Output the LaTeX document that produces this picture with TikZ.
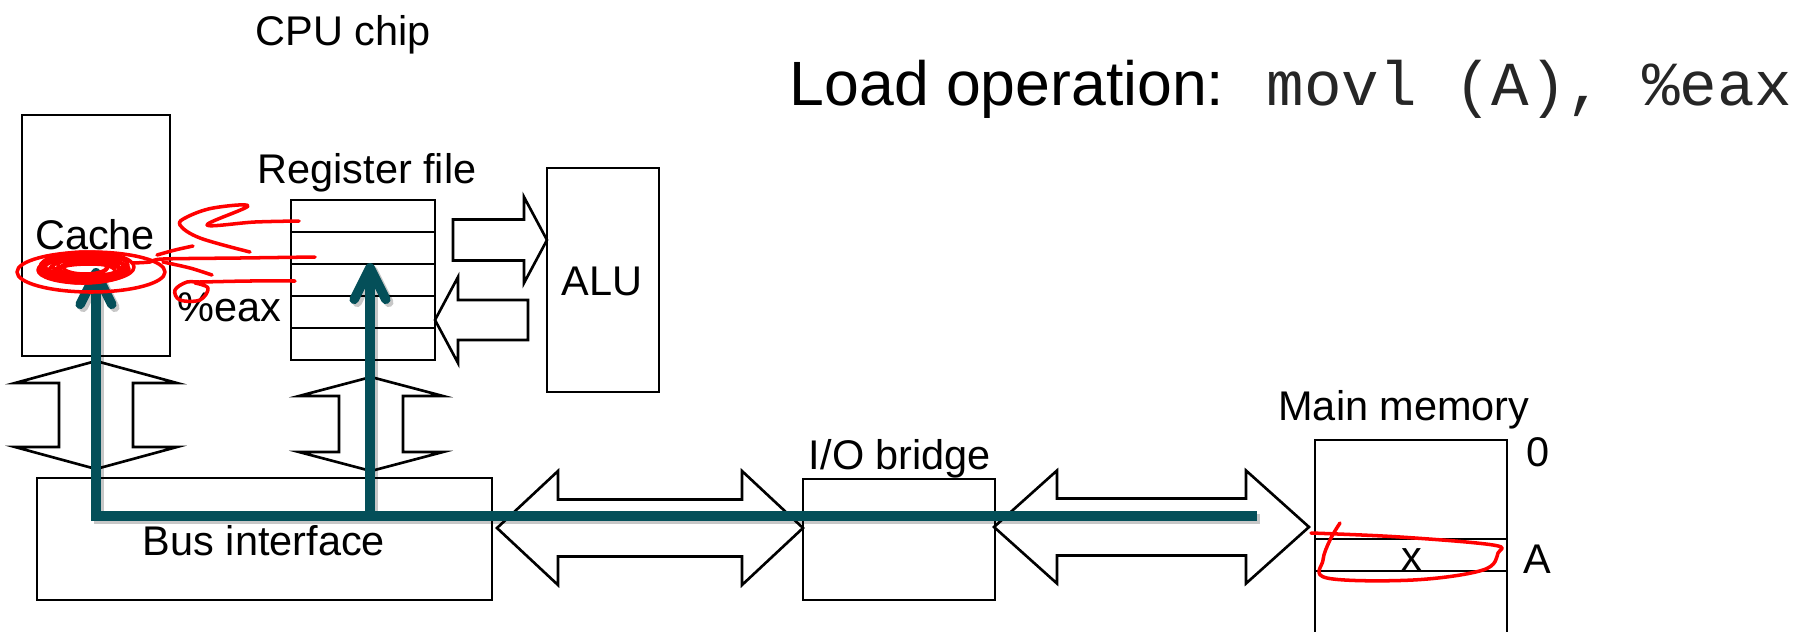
\documentclass[tikz,border=0pt]{standalone}
\usepackage{fontspec}
\setmainfont{Liberation Sans}
\newfontfamily\codefont{Liberation Mono}
\usetikzlibrary{arrows.meta,positioning,calc,fit}

\definecolor{busteal}{RGB}{4,79,89}
\newcommand{\lblfont}{\fontsize{11.8}{14}\selectfont}
\newcommand{\ttlfont}{\fontsize{17.8}{21}\selectfont}

% hollow block arrows: numbers are pixels of the slide
\newcommand{\dblarrowH}[6]{% left tip, right tip, centre y, shaft half, head half, head length
  \draw[hollow] (#1,#3) -- ({#1+(#6)},{#3-(#5)}) -- ({#1+(#6)},{#3-(#4)}) -- ({#2-(#6)},{#3-(#4)})
    -- ({#2-(#6)},{#3-(#5)}) -- (#2,#3) -- ({#2-(#6)},{#3+(#5)}) -- ({#2-(#6)},{#3+(#4)})
    -- ({#1+(#6)},{#3+(#4)}) -- ({#1+(#6)},{#3+(#5)}) -- cycle;}
\newcommand{\dblarrowV}[6]{% centre x, top tip, bottom tip, shaft half, head half, head length
  \draw[hollow] (#1,#2) -- ({#1+(#5)},{#2+(#6)}) -- ({#1+(#4)},{#2+(#6)}) -- ({#1+(#4)},{#3-(#6)})
    -- ({#1+(#5)},{#3-(#6)}) -- (#1,#3) -- ({#1-(#5)},{#3-(#6)}) -- ({#1-(#4)},{#3-(#6)})
    -- ({#1-(#4)},{#2+(#6)}) -- ({#1-(#5)},{#2+(#6)}) -- cycle;}
\newcommand{\sglarrowH}[6]{% tail, tip, centre y, shaft half, head half, signed head length
  \draw[hollow] (#1,{#3-(#4)}) -- ({#2-(#6)},{#3-(#4)}) -- ({#2-(#6)},{#3-(#5)}) -- (#2,#3)
    -- ({#2-(#6)},{#3+(#5)}) -- ({#2-(#6)},{#3+(#4)}) -- (#1,{#3+(#4)}) -- cycle;}

\begin{document}
\begin{tikzpicture}[x=0.1mm,y=-0.1mm,
    box/.style={draw, line width=0.75pt, inner sep=0pt},
    lbl/.style={inner sep=0pt, font=\lblfont, anchor=base},
    hollow/.style={draw, line width=0.75pt, fill=white, line join=miter},
    busline/.style={draw=busteal, line width=2.7pt},
    barb/.tip={Straight Barb[length=9pt,width=9pt,round]},
    scrawl/.style={draw=red, line width=1pt, line cap=round, line join=round}]
  \useasboundingbox (0,0) rectangle (1810,631);

  % Block arrows
  \dblarrowV{96}{361}{469}{37}{81}{22}
  \dblarrowV{371}{377}{471}{32}{72}{19}
  \sglarrowH{453}{547}{240}{20.5}{43}{23}
  \sglarrowH{528}{435}{320}{20}{43}{-23}
  \dblarrowH{497}{803}{528}{28.5}{57}{61}
  \dblarrowH{994}{1309}{527}{28.5}{56.5}{63}

  % Boxes
  \node[box, fit={(22,115) (170,356)}] (cache) {};
  \node[box, fit={(291,200) (435,360)}] (regs) {};
  \foreach \y in {232,264,296,328}
    \draw[line width=0.75pt] (291,\y) -- (435,\y);
  \node[box, fit={(547,168) (659,392)}] (alu) {};
  \node[box, fit={(37,478) (492,600)}] (bus) {};
  \node[box, fit={(803,479) (995,600)}] (bridge) {};
  \node[box, fit={(1315,440) (1507,680)}] (mem) {};
  \draw[line width=0.75pt] (1315,539) -- (1507,539) (1315,571) -- (1507,571);

  % Labels
  \node[lbl] (chiplbl) at (343,45) {CPU chip};
  \node[lbl] (cachelbl) at (95,249) {Cache};
  \node[lbl] (regslbl) at (367,183) {Register file};
  \node[lbl, anchor=base west] (eaxlbl) at (177,321) {\%eax};
  \node[lbl] (alulbl) at (602,295) {ALU};
  \node[lbl] (buslbl) at (264,555) {Bus interface};
  \node[lbl] (bridgelbl) at (900,469) {I/O bridge};
  \node[lbl] (memlbl) at (1404,420) {Main memory};
  \node[lbl, anchor=base west] (zerolbl) at (1526,466) {0};
  \node[lbl, anchor=base west] (albl) at (1523,573) {A};
  \node[lbl] (xlbl) at (1412,570) {x};
  \node[inner sep=0pt, anchor=base west, font=\ttlfont] (title) at (789,105) {Load operation:};
  \node[inner sep=0pt, anchor=base west, font=\ttlfont\codefont, text=black!85] (code) at (1266,105) {movl (A), \%eax};

  % Data path
  \coordinate (cachetip) at (96,268);
  \coordinate (regtip) at (370,263);
  \coordinate (corner) at (96,516);
  \coordinate (regjoin) at (370,516);
  \coordinate (memend) at (1257,516);
  \begin{scope}[transform canvas={shift={(3,3)}}]
    \draw[busline, draw=black, opacity=0.22, {barb}-] (cachetip) -- (corner) -- (memend);
    \draw[busline, draw=black, opacity=0.22, -{barb}] (regjoin) -- (regtip);
  \end{scope}
  \draw[busline, {barb}-] (cachetip) -- (corner) -- (memend);
  \draw[busline, -{barb}] (regjoin) -- (regtip);

  % Red ink
  \draw[scrawl] (91,272) ellipse [x radius=74, y radius=20];
  \foreach \a/\b/\dx/\dy in {40/12/0/0, 35/10/3/-2, 45/13/-2/2, 30/9/5/1, 42/11/1/-3,
                             38/14/-4/0, 28/8/2/3, 44/10/0/1, 22/7/0/-1, 33/12/-3/3,
                             47/15/2/-1, 25/10/-2/-2, 36/8/4/4}
    \draw[scrawl] ({85+\dx},{268+\dy}) ellipse [x radius=\a, y radius=\b];
  \draw[scrawl] plot[smooth, tension=0.6] coordinates {(299,221) (255,222) (207,225) (248,206)
    (213,208) (187,217) (180,225) (200,238) (250,252)};
  \draw[scrawl] plot[smooth] coordinates {(315,257) (240,258) (163,259) (150,262) (133,263)};
  \draw[scrawl] plot[smooth] coordinates {(193,246) (175,250) (157,255)};
  \draw[scrawl] plot[smooth] coordinates {(163,262) (190,268) (212,275)};
  \draw[scrawl] plot[smooth, tension=0.6] coordinates {(295,281) (250,281) (200,282) (187,282)
    (175,290) (180,300) (200,300) (208,288) (195,283)};
  \draw[scrawl] plot[smooth, tension=0.6] coordinates {(1311,533) (1400,537) (1493,545) (1498,553)
    (1483,570) (1413,580) (1327,578) (1323,560) (1330,540) (1340,523)};
\end{tikzpicture}
\end{document}
